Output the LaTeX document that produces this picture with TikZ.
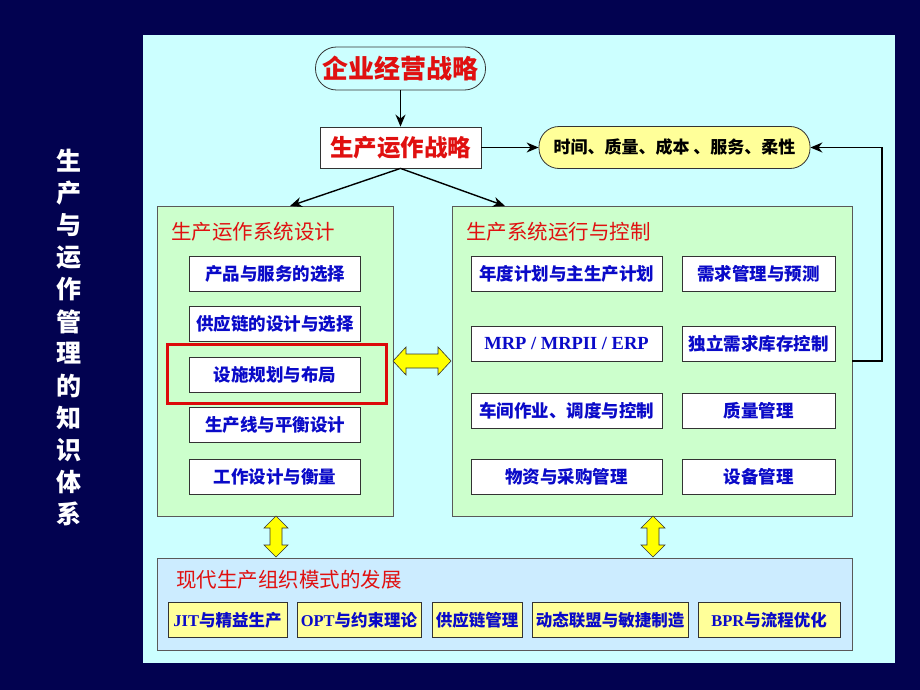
\documentclass[tikz,border=0pt]{standalone}
\usepackage{fontspec}
\usetikzlibrary{arrows.meta}
\newfontfamily\cjk{Noto Sans CJK SC}
\newfontfamily\lat{Liberation Serif}
\newcommand\fsz[1]{\fontsize{#1}{#1}\selectfont}
\definecolor{navy}{RGB}{2,2,80}
\definecolor{pcyan}{RGB}{204,255,255}
\definecolor{pgreen}{RGB}{204,255,204}
\definecolor{pblue}{RGB}{204,236,255}
\definecolor{pyellow}{RGB}{255,255,153}
\definecolor{ayellow}{RGB}{255,255,0}
\definecolor{tblue}{RGB}{10,10,200}
\definecolor{tred}{RGB}{224,16,16}
\definecolor{hred}{RGB}{220,10,10}
\tikzset{
  panel/.style={draw=black!65, line width=0.8pt, inner sep=0pt},
  itembox/.style={draw=black!80, fill=white, line width=0.8pt, inner sep=0pt, text=tblue, font=\cjk\bfseries\fsz{17.5}},
  modebox/.style={draw=black!80, fill=pyellow, line width=0.8pt, inner sep=0pt, text=tblue, font=\cjk\bfseries\fsz{16.5}},
  ptitle/.style={anchor=west, inner sep=0pt, text=tred, font=\cjk\fsz{20.5}},
  conn/.style={draw=black, line width=1.4pt, -{Stealth[length=12pt,width=10pt]}},
  yarrow/.style={fill=ayellow, draw=black!80, line width=0.6pt},
  vtitle/.style={inner sep=0pt, text=white, font=\cjk\bfseries\fsz{25}}
}
\begin{document}
\begin{tikzpicture}[x=1pt,y=-1pt]
\useasboundingbox (0,0) rectangle (920,690);
\fill[navy] (0,0) rectangle (920,690);
\fill[pcyan] (143,35) rectangle (895,663);

% vertical title
\foreach \c [count=\i from 0] in {生,产,与,运,作,管,理,的,知,识,体,系}
  \node[vtitle] (vt\i) at (69,{161+32.1*\i}) {\c};

% top
\node[draw=black!80, line width=0.8pt, fill=pcyan, rounded corners=21pt, minimum width=170pt, minimum height=43pt, inner sep=0pt, text=tred, font=\cjk\bfseries\fsz{26}] (corp) at (400.5,68.5) {企业经营战略};
\node[draw=black!80, line width=0.8pt, fill=white, minimum width=161pt, minimum height=41pt, inner sep=0pt, text=tred, font=\cjk\bfseries\fsz{23.5}] (ops) at (400.5,147.5) {生产运作战略};
\node[draw=black!80, line width=0.8pt, fill=pyellow, rounded corners=20pt, minimum width=271pt, minimum height=42pt, inner sep=0pt, text=black, font=\cjk\bfseries\fsz{17}] (goal) at (674.5,147.5) {时间、质量、成本 、服务、柔性};

% panels
\node[panel, fill=pgreen, minimum width=236pt, minimum height=310pt] (lp) at (275,361) {};
\node[panel, fill=pgreen, minimum width=400pt, minimum height=310pt] (rp) at (652,361) {};
\node[panel, fill=pblue, minimum width=695pt, minimum height=92pt] (bp) at (504.5,604) {};

\node[ptitle] (lpt) at (171,232) {生产运作系统设计};
\node[ptitle] (rpt) at (466,232) {生产系统运行与控制};
\node[ptitle] (bpt) at (176,580) {现代生产组织模式的发展};

% left items
\node[itembox, minimum width=171pt, minimum height=35pt] (l1) at (275,274) {产品与服务的选择};
\node[itembox, minimum width=171pt, minimum height=35pt] (l2) at (275,323.5) {供应链的设计与选择};
\node[itembox, minimum width=171pt, minimum height=35pt] (l3) at (275,374.5) {设施规划与布局};
\node[itembox, minimum width=171pt, minimum height=35pt] (l4) at (275,424.5) {生产线与平衡设计};
\node[itembox, minimum width=171pt, minimum height=35pt] (l5) at (275,477) {工作设计与衡量};
\node[draw=hred, line width=3pt, minimum width=219pt, minimum height=59pt, inner sep=0pt] (hl) at (276.5,373.5) {};

% right items
\node[itembox, minimum width=191pt, minimum height=35pt] (r1) at (566.5,274) {年度计划与主生产计划};
\node[itembox, minimum width=191pt, minimum height=35pt, font=\lat\bfseries\fsz{18.5}] (r2) at (566.5,343.5) {MRP / MRPII / ERP};
\node[itembox, minimum width=191pt, minimum height=35pt] (r3) at (566.5,410.5) {车间作业、调度与控制};
\node[itembox, minimum width=191pt, minimum height=35pt] (r4) at (566.5,476.5) {物资与采购管理};
\node[itembox, minimum width=153pt, minimum height=35pt] (s1) at (758.5,274) {需求管理与预测};
\node[itembox, minimum width=153pt, minimum height=35pt] (s2) at (758.5,343.5) {独立需求库存控制};
\node[itembox, minimum width=153pt, minimum height=35pt] (s3) at (758.5,410.5) {质量管理};
\node[itembox, minimum width=153pt, minimum height=35pt] (s4) at (758.5,476.5) {设备管理};

% bottom items
\node[modebox, minimum width=119pt, minimum height=35pt] (b1) at (227.5,620) {{\lat\bfseries JIT}与精益生产};
\node[modebox, minimum width=124pt, minimum height=35pt] (b2) at (359,620) {{\lat\bfseries OPT}与约束理论};
\node[modebox, minimum width=90pt, minimum height=35pt] (b3) at (477,620) {供应链管理};
\node[modebox, minimum width=156pt, minimum height=35pt] (b4) at (610,620) {动态联盟与敏捷制造};
\node[modebox, minimum width=142pt, minimum height=35pt] (b5) at (769,620) {{\lat\bfseries BPR}与流程优化};

% connectors
\draw[conn] (corp.south) -- (ops.north);
\draw[conn] (ops.east) -- (goal.west);
\draw[conn] (ops.south) -- (290,206);
\draw[conn] (ops.south) -- (505,206);
\coordinate (fb1) at (882,361);
\coordinate (fb2) at (882,147.5);
\draw[conn] (rp.east |- fb1) -- (fb1) -- (fb2) -- (goal.east);

% yellow double arrows
\draw[yarrow] (393,361) -- (406,347) -- (406,354) -- (438,354) -- (438,347) -- (451,361)
  -- (438,375) -- (438,368) -- (406,368) -- (406,375) -- cycle;
\foreach \xx in {276,653}
  \draw[yarrow] (\xx,516) -- (\xx+12,528) -- (\xx+6,528) -- (\xx+6,545) -- (\xx+12,545) -- (\xx,557)
    -- (\xx-12,545) -- (\xx-6,545) -- (\xx-6,528) -- (\xx-12,528) -- cycle;
\end{tikzpicture}
\end{document}
